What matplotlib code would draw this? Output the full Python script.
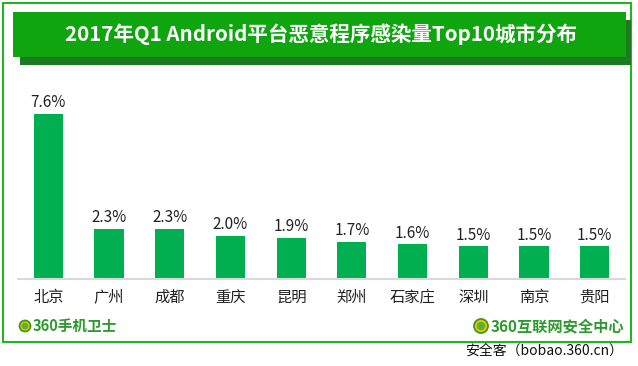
import matplotlib
matplotlib.use("Agg")
import matplotlib.pyplot as plt
from matplotlib.patches import Rectangle, Ellipse

plt.rcParams['font.family'] = ['Noto Sans CJK SC', 'DejaVu Sans']

title = "2017年Q1 Android平台恶意程序感染量Top10城市分布"
cities = ["北京", "广州", "成都", "重庆", "昆明", "郑州", "石家庄", "深圳", "南京", "贵阳"]
values = [7.6, 2.3, 2.3, 2.0, 1.9, 1.7, 1.6, 1.5, 1.5, 1.5]

W, H = 638, 366
fig = plt.figure(figsize=(W / 100, H / 100), dpi=100)
fig.patch.set_facecolor("white")

def fx(px):
    return px / W

def fy(py):
    return 1 - py / H

# outer green border
fig.add_artist(Rectangle((fx(3), fy(342)), fx(631) - fx(3), fy(3) - fy(342),
                         transform=fig.transFigure, fill=False,
                         edgecolor="#22B422", linewidth=1.5))
# title shadow
fig.add_artist(Rectangle((fx(20), fy(65)), fx(631) - fx(20), fy(20) - fy(65),
                         transform=fig.transFigure, facecolor="#1E7A1E",
                         edgecolor="none"))
# title bar
fig.add_artist(Rectangle((fx(13), fy(57)), fx(626) - fx(13), fy(12) - fy(57),
                         transform=fig.transFigure, facecolor="#0FA50F",
                         edgecolor="none"))
fig.text(fx(321), fy(34), title, color="white", fontsize=14.8,
         fontweight="bold", ha="center", va="center")

# axes
ax = fig.add_axes([fx(18), fy(279), fx(625) - fx(18), fy(90) - fy(279)])
x = list(range(len(cities)))
bars = ax.bar(x, values, width=0.48, color="#00B050", edgecolor="none", zorder=2)
ax.set_xlim(-0.5, len(cities) - 0.5)
ax.set_ylim(0, 8.71)
for s in ["top", "right", "left"]:
    ax.spines[s].set_visible(False)
ax.spines["bottom"].set_color("#D9D9D9")
ax.spines["bottom"].set_linewidth(1.5)
ax.set_yticks([])
ax.set_xticks(x)
ax.set_xticklabels(cities, fontsize=11, color="#222222")
ax.tick_params(axis="x", length=0, pad=7)
ax.patch.set_alpha(0)
for xi, v in zip(x, values):
    ax.annotate(f"{v:.1f}%", (xi, v), xytext=(0, 2), textcoords="offset points",
                ha="center", va="bottom", fontsize=11, color="#222222")

def logo(cx, cy, r):
    fig.add_artist(Ellipse((fx(cx), fy(cy)), 2 * r / W, 2 * r / H,
                           transform=fig.transFigure, facecolor="#F2C200",
                           edgecolor="#3A9A20", linewidth=1.3))
    fig.add_artist(Ellipse((fx(cx), fy(cy)), 1.2 * r / W, 1.2 * r / H,
                           transform=fig.transFigure, facecolor="#5DB030",
                           edgecolor="none"))

# bottom-left logo
logo(25, 326, 5.5)
fig.text(fx(33), fy(326), "360手机卫士", color="#2E9A2E", fontsize=10.5,
         fontweight="bold", ha="left", va="center")
# bottom-right logo
logo(481, 326, 7)
fig.text(fx(491), fy(326), "360互联网安全中心", color="#2E9A2E", fontsize=11,
         fontweight="bold", ha="left", va="center")

# watermark
fig.text(fx(623), fy(351), "安全客（bobao.360.cn）", color="#111111", fontsize=10,
         ha="right", va="center")

fig.savefig("out.png", dpi=100, facecolor="white")
